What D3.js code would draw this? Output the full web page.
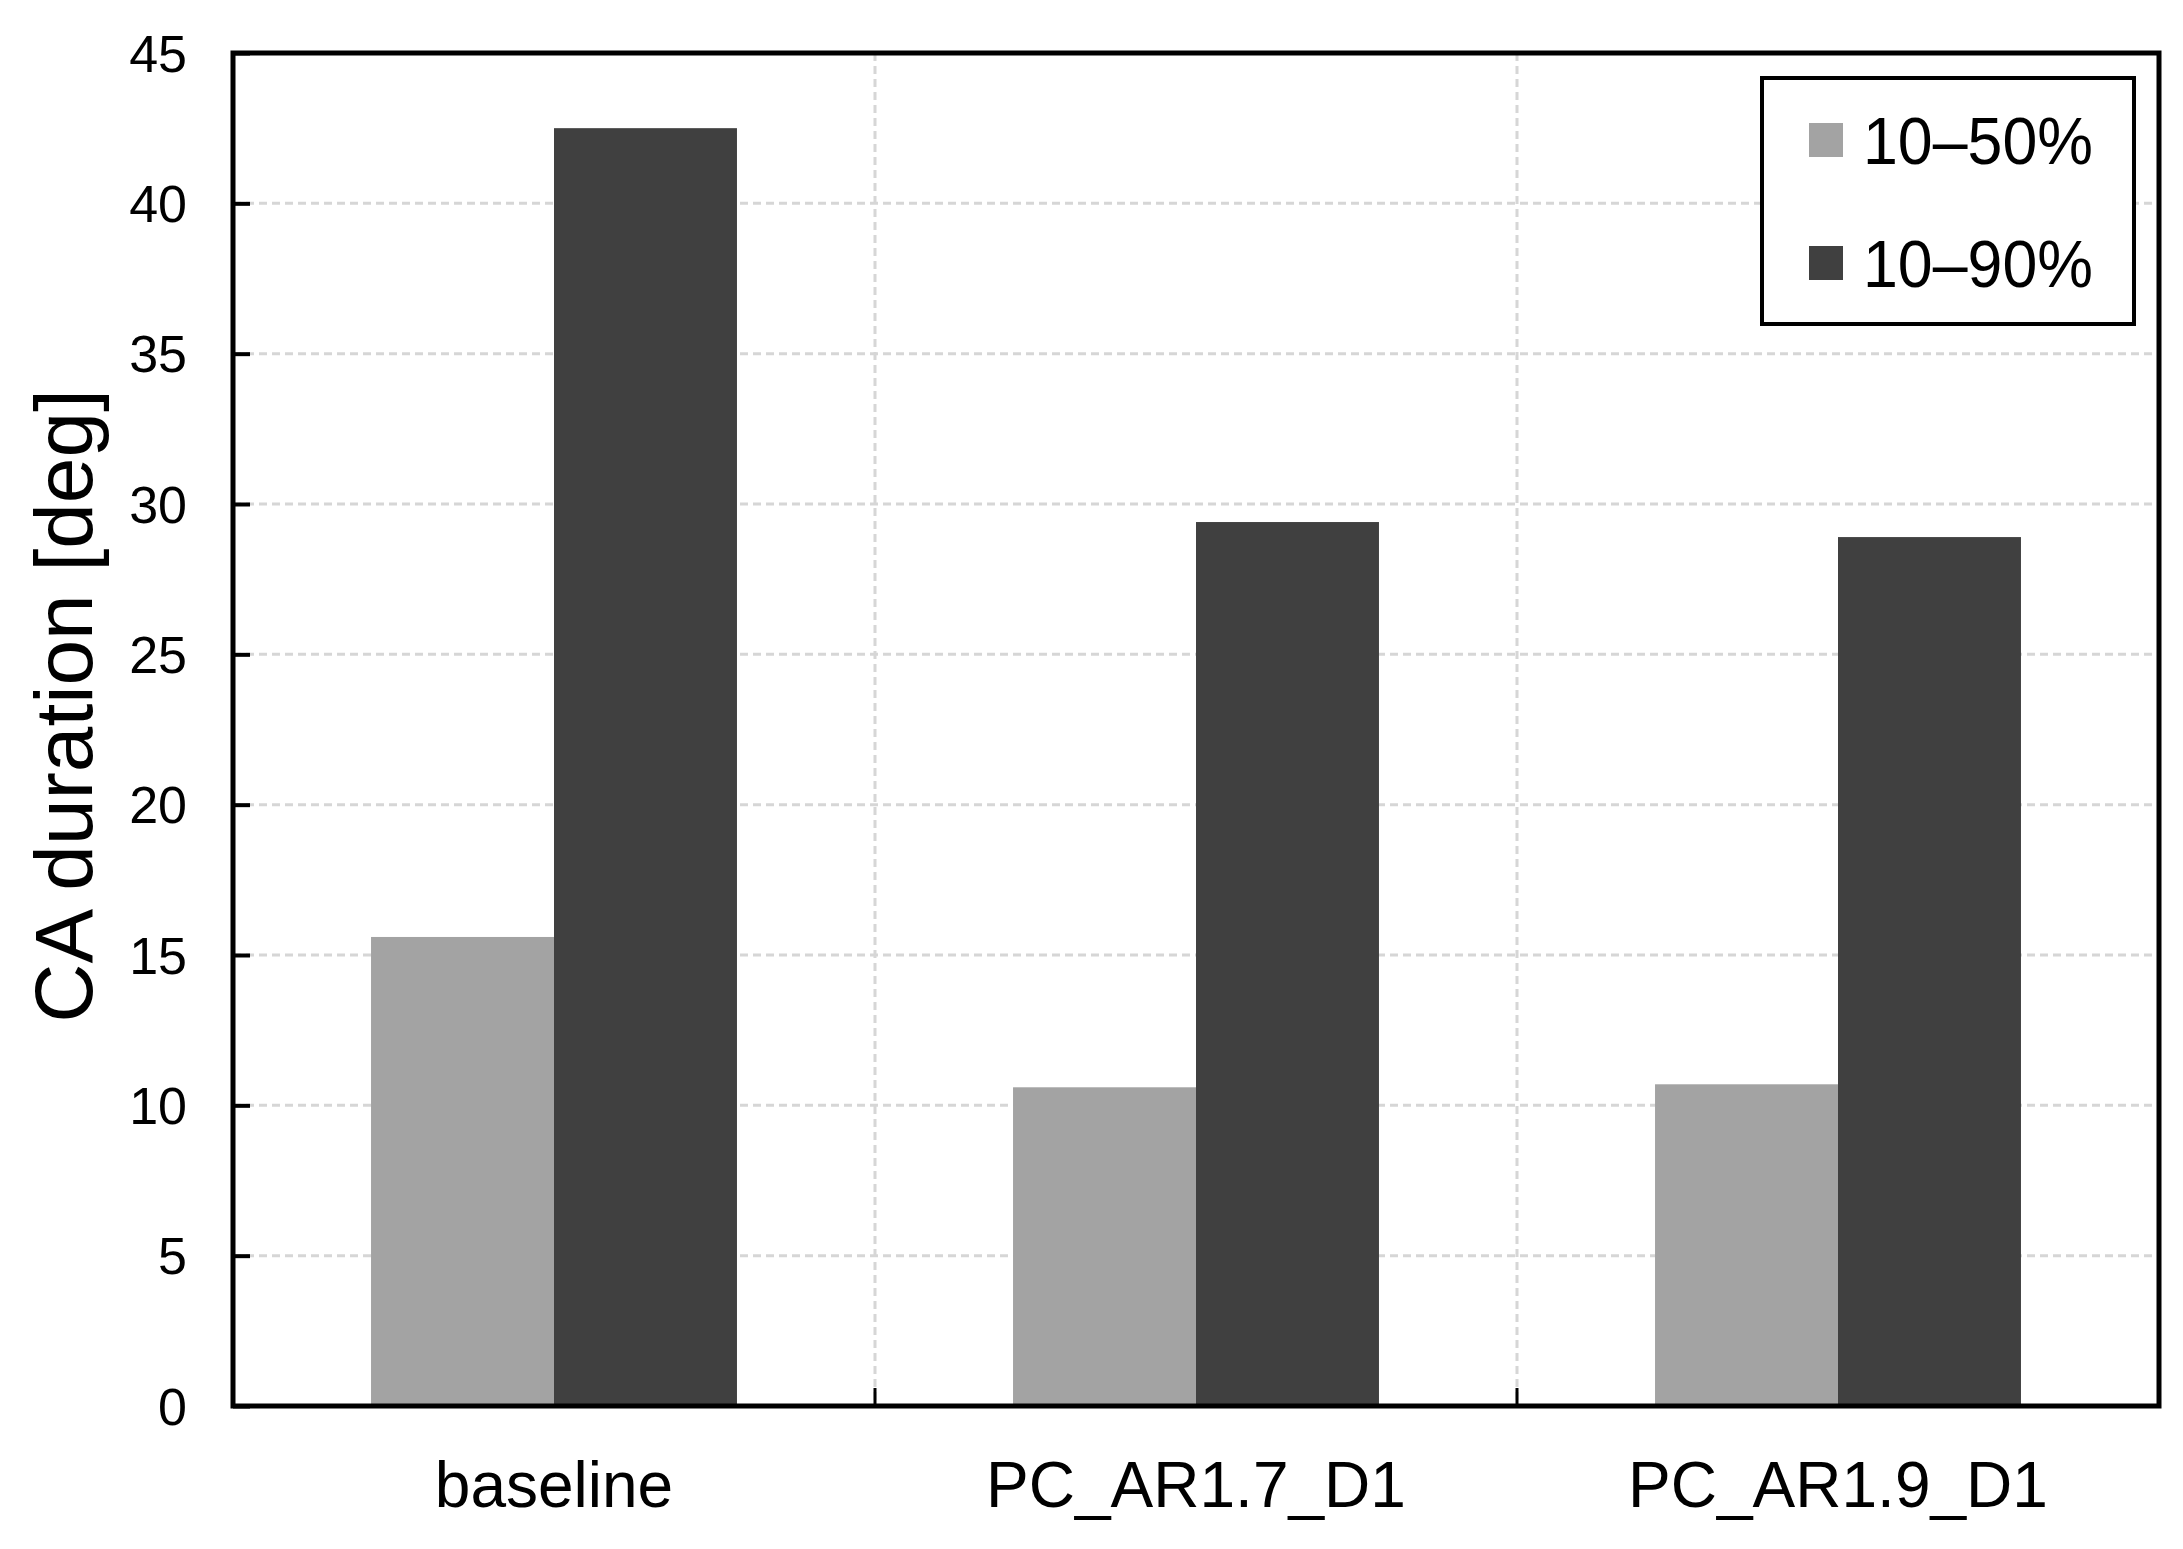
<!DOCTYPE html>
<html>
<head>
<meta charset="utf-8">
<script src="https://cdn.jsdelivr.net/npm/d3@7"></script>
<style>
    body { margin: 0; background: #fff; }
    text { font-family: "Liberation Sans", Arial, sans-serif; fill: #000; }
</style>
</head>
<body>
<div id="chart"></div>
<script>
// Chart data
const categories = ["baseline", "PC_AR1.7_D1", "PC_AR1.9_D1"];
const seriesNames = ["10\u201350%", "10\u201390%"];
const values1050 = [15.6, 10.6, 10.7];
const values1090 = [42.5, 29.4, 28.9];
const yTicks = [0, 5, 10, 15, 20, 25, 30, 35, 40, 45];
const seriesColors = ["#a3a3a3", "#404040"];

const width = 2183, height = 1549;
const margin = {top: 53, right: 24, bottom: 143, left: 233};

const svg = d3.select("#chart").append("svg")
    .attr("width", width)
    .attr("height", height);

const x = d3.scaleBand()
    .domain(categories)
    .range([margin.left, width - margin.right])
    .paddingInner(0)
    .paddingOuter(0);

const xInner = d3.scaleBand()
    .domain(seriesNames)
    .range([x.bandwidth() * 0.215, x.bandwidth() * 0.785]);

const y = d3.scaleLinear()
    .domain([0, 45])
    .range([height - margin.bottom, margin.top]);

// Gridlines
const grid = svg.append("g");
grid.selectAll("line.h")
    .data(yTicks.slice(1, -1))
    .enter().append("line")
    .attr("x1", margin.left).attr("x2", width - margin.right)
    .attr("y1", d => y(d)).attr("y2", d => y(d))
    .attr("stroke", "#d6d6d6").attr("stroke-width", 3)
    .attr("stroke-dasharray", "8,5");

grid.selectAll("line.v")
    .data(categories.slice(1))
    .enter().append("line")
    .attr("x1", d => x(d)).attr("x2", d => x(d))
    .attr("y1", margin.top).attr("y2", height - margin.bottom)
    .attr("stroke", "#d6d6d6").attr("stroke-width", 3)
    .attr("stroke-dasharray", "8,5");

// Bars
const rows = categories.map((c, i) => ({cat: c, vals: [values1050[i], values1090[i]]}));
const groups = svg.selectAll("g.grp")
    .data(rows)
    .enter().append("g")
    .attr("transform", d => `translate(${x(d.cat)},0)`);

groups.selectAll("rect")
    .data(d => d.vals.map((v, j) => ({key: seriesNames[j], v, j})))
    .enter().append("rect")
    .attr("x", d => xInner(d.key))
    .attr("width", xInner.bandwidth())
    .attr("y", d => y(d.v))
    .attr("height", d => y(0) - y(d.v))
    .attr("fill", d => seriesColors[d.j]);

// Y axis ticks (inward)
const yAxis = d3.axisLeft(y).tickValues(yTicks).tickSizeInner(-17).tickSizeOuter(0).tickPadding(46);
const gy = svg.append("g")
    .attr("transform", `translate(${margin.left},0)`)
    .call(yAxis);
gy.select(".domain").remove();
gy.selectAll(".tick line").attr("stroke", "#000").attr("stroke-width", 4);
gy.selectAll(".tick text")
    .style("font-size", "52px")
    .attr("x", -46)
    .attr("dy", "0.35em");

// X axis ticks at dividers (inward)
svg.append("g").selectAll("line")
    .data(categories.slice(1))
    .enter().append("line")
    .attr("x1", d => x(d)).attr("x2", d => x(d))
    .attr("y1", y(0)).attr("y2", y(0) - 18)
    .attr("stroke", "#000").attr("stroke-width", 3);

// X labels
svg.append("g").selectAll("text")
    .data(categories)
    .enter().append("text")
    .attr("x", d => x(d) + x.bandwidth() / 2)
    .attr("y", 1507)
    .attr("text-anchor", "middle")
    .style("font-size", "64px")
    .text(d => d);

// Plot frame
svg.append("rect")
    .attr("x", margin.left).attr("y", margin.top)
    .attr("width", width - margin.right - margin.left)
    .attr("height", y(0) - margin.top)
    .attr("fill", "none")
    .attr("stroke", "#000").attr("stroke-width", 5);

// Y title
svg.append("text")
    .attr("transform", "translate(92,706) rotate(-90)")
    .attr("text-anchor", "middle")
    .style("font-size", "82px")
    .text("CA duration [deg]");

// Legend
const legend = svg.append("g");
legend.append("rect")
    .attr("x", 1762).attr("y", 78)
    .attr("width", 372).attr("height", 246)
    .attr("fill", "#fff")
    .attr("stroke", "#000").attr("stroke-width", 4);

const items = legend.selectAll("g.item")
    .data(seriesNames)
    .enter().append("g")
    .attr("transform", (d, i) => `translate(1809,${140 + i * 123})`);

items.append("rect")
    .attr("x", 0).attr("y", -17)
    .attr("width", 34).attr("height", 34)
    .attr("fill", (d, i) => seriesColors[i]);

items.append("text")
    .attr("x", 54).attr("y", 24)
    .style("font-size", "66px")
    .attr("textLength", 230)
    .attr("lengthAdjust", "spacingAndGlyphs")
    .text(d => d);
</script>
</body>
</html>
